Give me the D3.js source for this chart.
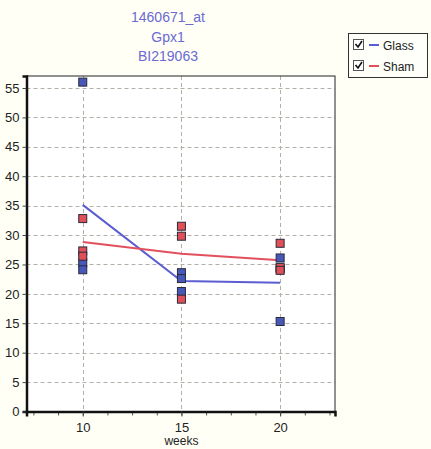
<!DOCTYPE html>
<html>
<head>
<meta charset="utf-8">
<script src="https://cdn.jsdelivr.net/npm/d3@7"></script>
<style>
  html, body { margin: 0; padding: 0; background: #fffff6; }
  svg { display: block; }
  text { font-family: "Liberation Sans", Arial, sans-serif; }
</style>
</head>
<body>
<svg id="chart" width="431" height="449"></svg>
<script>
// Expression of Gpx1 by week, two groups
const titleLines = ["1460671_at", "Gpx1", "BI219063"];
const weeks = [10, 15, 20];
const glassValues = [
  [56.0, 25.3, 24.1],
  [23.6, 22.6, 20.4],
  [26.1, 24.3, 15.3]
];
const shamValues = [
  [32.8, 27.3, 26.4],
  [31.5, 29.8, 19.1],
  [28.6, 24.5, 24.0]
];
const yTicks = [0, 5, 10, 15, 20, 25, 30, 35, 40, 45, 50, 55];
const xTicks = [10, 15, 20];
const xMinorTicks = [7.5, 8.75, 10, 11.25, 12.5, 13.75, 15, 16.25, 17.5, 18.75, 20, 21.25, 22.5];
const seriesNames = ["Glass", "Sham"];

const series = [
  { name: seriesNames[0], values: glassValues, line: "#5a5ed0", fill: "#4858b8" },
  { name: seriesNames[1], values: shamValues, line: "#e2505e", fill: "#e05058" }
];

const svg = d3.select("#chart");
const plot = { left: 26.5, right: 335, top: 76, bottom: 411.5 };

const x = d3.scaleLinear().domain([7.15, 22.78]).range([plot.left, plot.right]);
const y = d3.scaleLinear().domain([0, 57.04]).range([plot.bottom, plot.top]);

// plot background
svg.append("rect")
  .attr("x", plot.left).attr("y", plot.top)
  .attr("width", plot.right - plot.left).attr("height", plot.bottom - plot.top)
  .attr("fill", "#ffffff");

// dashed grid
const grid = svg.append("g").attr("stroke", "#b4b0a8").attr("stroke-dasharray", "4,3").attr("stroke-width", 1);
grid.selectAll("line.h").data(yTicks.filter(d => d > 0)).join("line")
  .attr("x1", plot.left).attr("x2", plot.right)
  .attr("y1", d => Math.round(y(d)) + 0.5).attr("y2", d => Math.round(y(d)) + 0.5);
grid.selectAll("line.v").data(xTicks).join("line")
  .attr("y1", plot.top).attr("y2", plot.bottom)
  .attr("x1", d => Math.round(x(d)) + 0.5).attr("x2", d => Math.round(x(d)) + 0.5);

// frame: thin top/right, heavy left/bottom
svg.append("rect")
  .attr("x", plot.left).attr("y", plot.top)
  .attr("width", plot.right - plot.left).attr("height", plot.bottom - plot.top)
  .attr("fill", "none").attr("stroke", "#222").attr("stroke-width", 1);

// y axis
const yAxis = d3.axisLeft(y).tickValues(yTicks).tickSize(4).tickPadding(3).tickFormat(d3.format("d"));
const gy = svg.append("g").attr("transform", `translate(${plot.left},0)`).call(yAxis);
gy.select(".domain").attr("stroke", "#111").attr("stroke-width", 2.5);
gy.selectAll(".tick line").attr("stroke", "#444");
gy.selectAll("text").attr("font-size", 13).attr("fill", "#222");

// x axis with minor ticks
const gxMinor = svg.append("g").attr("transform", `translate(0,${plot.bottom})`)
  .call(d3.axisBottom(x).tickValues(xMinorTicks).tickSize(4).tickFormat(""));
gxMinor.select(".domain").remove();
gxMinor.selectAll(".tick line").attr("stroke", "#555");

const gx = svg.append("g").attr("transform", `translate(0,${plot.bottom})`)
  .call(d3.axisBottom(x).tickValues(xTicks).tickSize(5).tickPadding(6).tickFormat(d3.format("d")));
gx.select(".domain").attr("stroke", "#111").attr("stroke-width", 2.5);
gx.selectAll(".tick line").attr("stroke", "#444");
gx.selectAll("text").attr("font-size", 13).attr("fill", "#222");

svg.append("text")
  .attr("x", x(15)).attr("y", 445)
  .attr("text-anchor", "middle").attr("font-size", 12).attr("fill", "#222")
  .text("weeks");

// mean lines
const line = d3.line().x(d => x(d.week)).y(d => y(d.mean));
series.forEach(s => {
  const means = weeks.map((w, i) => ({ week: w, mean: d3.mean(s.values[i]) }));
  svg.append("path").datum(means)
    .attr("d", line).attr("fill", "none")
    .attr("stroke", s.line).attr("stroke-width", 2);
});

// individual sample markers
series.forEach(s => {
  const pts = [];
  weeks.forEach((w, i) => s.values[i].forEach(v => pts.push({ week: w, value: v })));
  svg.append("g").selectAll("rect").data(pts).join("rect")
    .attr("x", d => x(d.week) - 4).attr("y", d => y(d.value) - 4)
    .attr("width", 8).attr("height", 8)
    .attr("fill", s.fill).attr("stroke", "#2a2a3a").attr("stroke-width", 1);
});

// title
svg.append("g").selectAll("text").data(titleLines).join("text")
  .attr("x", 168).attr("y", (d, i) => 22 + i * 19.5)
  .attr("text-anchor", "middle").attr("font-size", 14).attr("fill", "#6a6ad2")
  .text(d => d);

// legend
const lg = svg.append("g");
lg.append("rect").attr("x", 348.5).attr("y", 33.5).attr("width", 79).attr("height", 44)
  .attr("fill", "#fffffa").attr("stroke", "#333");
series.forEach((s, i) => {
  const cy = 45 + i * 21;
  lg.append("rect").attr("x", 353.5).attr("y", cy - 5.5).attr("width", 10).attr("height", 10)
    .attr("fill", "#fff").attr("stroke", "#555");
  lg.append("path").attr("d", `M${355.5},${cy - 1} l2.5,3 l4,-6`)
    .attr("fill", "none").attr("stroke", "#111").attr("stroke-width", 1.6);
  lg.append("line").attr("x1", 369).attr("x2", 379).attr("y1", cy).attr("y2", cy)
    .attr("stroke", s.line).attr("stroke-width", 2);
  lg.append("text").attr("x", 383).attr("y", cy + 4.5)
    .attr("font-size", 12).attr("fill", "#222").text(s.name);
});
</script>
</body>
</html>
